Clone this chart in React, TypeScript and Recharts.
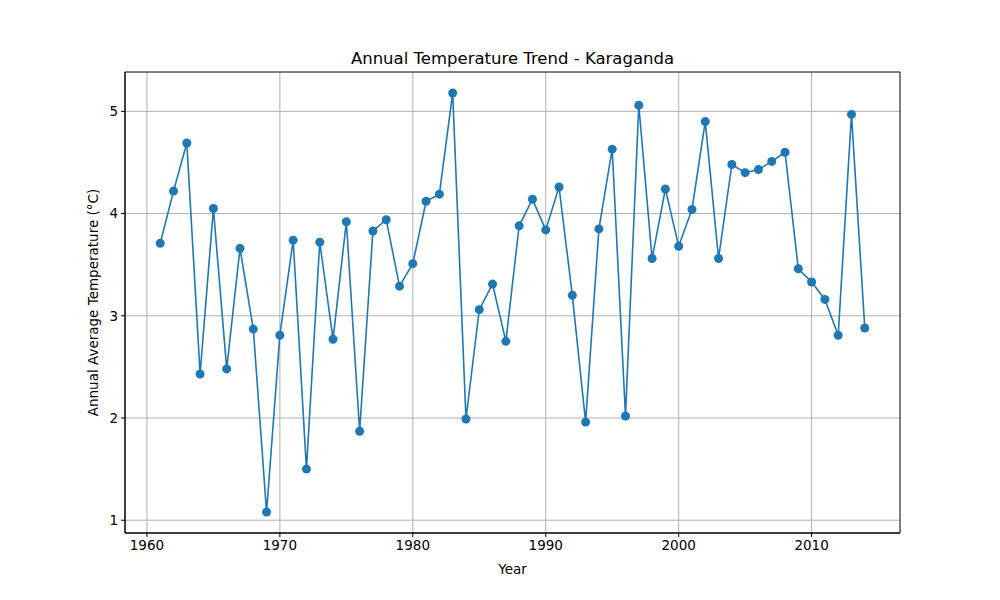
import React from 'react';
import { LineChart, Line, XAxis, YAxis, CartesianGrid, ReferenceArea } from 'recharts';

const years = [1961, 1962, 1963, 1964, 1965, 1966, 1967, 1968, 1969, 1970, 1971, 1972, 1973, 1974, 1975, 1976, 1977, 1978, 1979, 1980, 1981, 1982, 1983, 1984, 1985, 1986, 1987, 1988, 1989, 1990, 1991, 1992, 1993, 1994, 1995, 1996, 1997, 1998, 1999, 2000, 2001, 2002, 2003, 2004, 2005, 2006, 2007, 2008, 2009, 2010, 2011, 2012, 2013, 2014];
const temps = [3.71, 4.22, 4.69, 2.43, 4.05, 2.48, 3.66, 2.87, 1.08, 2.81, 3.74, 1.5, 3.72, 2.77, 3.92, 1.87, 3.83, 3.94, 3.29, 3.51, 4.12, 4.19, 5.18, 1.99, 3.06, 3.31, 2.75, 3.88, 4.14, 3.84, 4.26, 3.2, 1.96, 3.85, 4.63, 2.02, 5.06, 3.56, 4.24, 3.68, 4.04, 4.9, 3.56, 4.48, 4.4, 4.43, 4.51, 4.6, 3.46, 3.33, 3.16, 2.81, 4.97, 2.88];
const xTicks = [1960, 1970, 1980, 1990, 2000, 2010];
const yTicks = [1, 2, 3, 4, 5];

const data = years.map((year, i) => ({ year, temp: temps[i] }));
const font = 'DejaVu Sans, sans-serif';
const tickStyle = { fill: '#000', fontSize: 13.5, fontFamily: font };
const xDomain = [1958.35, 2016.65];
const yDomain = [0.875, 5.385];

export default function App() {
  return (
    <div style={{ position: 'absolute', left: 0, top: 0, width: 1000, height: 600, background: '#fff' }}>
      <div style={{ position: 'absolute', left: 0, top: 49, width: 1025, textAlign: 'center', fontFamily: font, fontSize: 16.5 }}>
        Annual Temperature Trend - Karaganda
      </div>
      <LineChart width={1000} height={600} data={data} margin={{ top: 72, right: 100, bottom: 0, left: 0 }}>
        <CartesianGrid stroke="#b0b0b0" strokeWidth={1} verticalValues={xTicks} horizontalValues={yTicks} />
        <XAxis dataKey="year" type="number" domain={xDomain} ticks={xTicks} allowDataOverflow
          height={67} tickSize={4} tickMargin={3} stroke="#000" tick={tickStyle}
          label={{ value: 'Year', position: 'insideBottom', offset: 26, style: { fill: '#000', fontSize: 13.5, fontFamily: font } }} />
        <YAxis type="number" domain={yDomain} ticks={yTicks} allowDataOverflow
          width={125} tickSize={4} tickMargin={3} stroke="#000" tick={tickStyle}
          label={{ value: 'Annual Average Temperature (°C)', angle: -90, position: 'center', dx: 31, style: { fill: '#000', fontSize: 13.5, fontFamily: font, textAnchor: 'middle' } }} />
        <ReferenceArea x1={xDomain[0]} x2={xDomain[1]} y1={yDomain[0]} y2={yDomain[1]} fill="none" stroke="#000" strokeWidth={1} ifOverflow="visible" />
        <Line type="linear" dataKey="temp" stroke="#1f77b4" strokeWidth={1.6}
          dot={{ r: 4.5, fill: '#1f77b4', stroke: '#1f77b4', strokeWidth: 0 }} isAnimationActive={false} />
      </LineChart>
    </div>
  );
}
